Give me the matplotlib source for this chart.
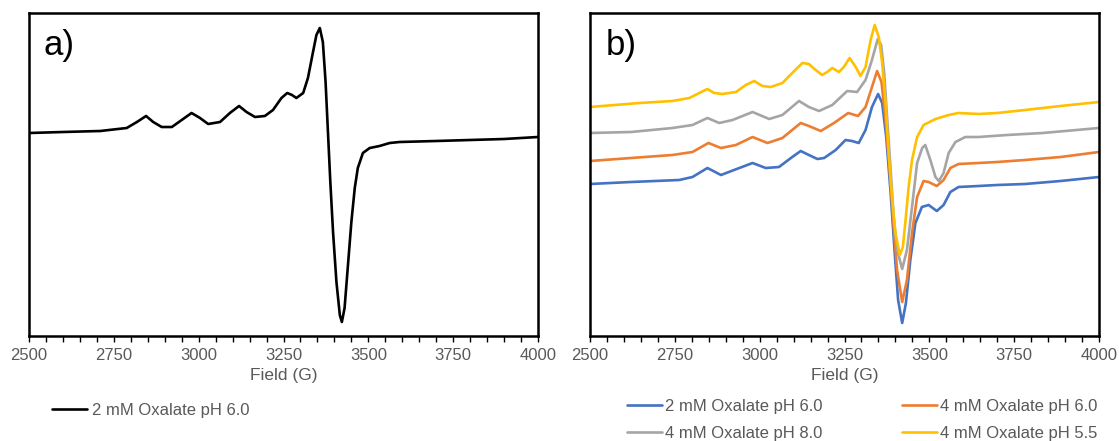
import matplotlib
matplotlib.use("Agg")
import matplotlib.pyplot as plt
from matplotlib.ticker import MultipleLocator

plt.rcParams['font.family'] = ['Liberation Sans', 'DejaVu Sans']

# ---- panel a) : 2 mM oxalate, pH 6.0 (field in G, signal in arbitrary units) ----
field_a = [2500, 2600, 2710, 2788, 2818, 2845, 2866, 2891, 2921, 2950, 2979, 3004,
           3028, 3063, 3092, 3119, 3141, 3166, 3195, 3219, 3244, 3261, 3275, 3288,
           3308, 3322, 3337, 3347, 3357, 3366, 3374, 3381, 3388, 3396, 3406, 3416,
           3422, 3430, 3440, 3450, 3460, 3469, 3484, 3504, 3533, 3563, 3592, 3700,
           3800, 3900, 4000]
signal_a = [203, 204, 205, 208, 214, 220, 214, 209, 209, 216, 223, 218,
            212, 214, 223, 230, 224, 219, 220, 226, 238, 243, 241, 238,
            243, 258, 284, 301, 308, 294, 254, 204, 154, 104, 54, 21,
            14, 28, 71, 114, 148, 168, 183, 188, 190, 193, 194, 195,
            196, 197, 199]

# ---- panel b) : four samples ----
field_blue = [2500, 2621, 2763, 2802, 2846, 2886, 2940, 2979, 3018, 3057, 3096, 3121,
              3145, 3170, 3190, 3224, 3253, 3272, 3292, 3312, 3331, 3349, 3361, 3373,
              3386, 3398, 3408, 3420, 3431, 3444, 3459, 3478, 3498, 3522, 3542, 3562,
              3586, 3645, 3700, 3782, 3887, 4000]
signal_blue = [152, 154, 156, 159, 168, 161, 168, 173, 168, 169, 179, 185,
               181, 177, 178, 186, 196, 195, 193, 206, 229, 242, 233, 199,
               143, 83, 36, 13, 33, 76, 113, 129, 131, 125, 131, 144,
               149, 150, 151, 152, 155, 159]

field_orange = [2500, 2621, 2743, 2802, 2849, 2886, 2930, 2979, 3023, 3067, 3121, 3145,
                3180, 3219, 3261, 3290, 3312, 3331, 3346, 3359, 3371, 3383, 3395, 3405,
                3420, 3434, 3449, 3464, 3483, 3498, 3522, 3542, 3562, 3586, 3645, 3700,
                3782, 3887, 4000]
signal_orange = [175, 178, 181, 184, 193, 188, 191, 199, 193, 198, 213, 210,
                 205, 213, 223, 220, 229, 249, 265, 254, 216, 166, 109, 66,
                 34, 56, 103, 139, 155, 154, 150, 156, 168, 172, 173, 174,
                 176, 179, 184]

field_gray = [2500, 2621, 2743, 2802, 2846, 2881, 2920, 2979, 3028, 3067, 3116, 3145,
              3175, 3214, 3258, 3287, 3312, 3330, 3348, 3358, 3367, 3376, 3386, 3395,
              3405, 3420, 3434, 3449, 3464, 3479, 3488, 3503, 3518, 3528, 3542, 3557,
              3577, 3606, 3645, 3729, 3834, 4000]
signal_gray = [203, 204, 208, 211, 218, 213, 216, 224, 217, 221, 235, 229,
               225, 231, 245, 244, 256, 275, 297, 291, 263, 216, 166, 119,
               86, 67, 86, 129, 173, 188, 191, 176, 159, 155, 163, 183,
               194, 199, 199, 201, 203, 208]

field_yellow = [2500, 2646, 2743, 2793, 2822, 2846, 2866, 2890, 2930, 2959, 2984, 3008,
                3033, 3067, 3096, 3126, 3145, 3165, 3184, 3199, 3214, 3234, 3248, 3265,
                3283, 3297, 3312, 3327, 3339, 3351, 3361, 3371, 3380, 3390, 3400, 3413,
                3422, 3430, 3439, 3449, 3464, 3483, 3518, 3557, 3586, 3645, 3700, 3782,
                3887, 4000]
signal_yellow = [229, 233, 235, 238, 243, 247, 243, 242, 244, 251, 255, 250,
                 249, 253, 263, 273, 272, 266, 261, 264, 268, 264, 269, 278,
                 269, 260, 269, 296, 311, 299, 273, 233, 183, 139, 103, 81,
                 89, 116, 149, 176, 199, 211, 217, 221, 223, 222, 223, 226,
                 230, 234]

labels_b = ["2 mM Oxalate pH 6.0", "4 mM Oxalate pH 6.0",
            "4 mM Oxalate pH 8.0", "4 mM Oxalate pH 5.5"]
colors_b = ["#4472C4", "#ED7D31", "#A5A5A5", "#FFC000"]

xticks = [2500, 2750, 3000, 3250, 3500, 3750, 4000]

fig = plt.figure(figsize=(11.19, 4.41), dpi=100)
ax_a = fig.add_axes([29 / 1119, 1 - 336 / 441, 509 / 1119, 323 / 441])
ax_b = fig.add_axes([590 / 1119, 1 - 336 / 441, 509 / 1119, 323 / 441])

label_gray = "#595959"


def style(ax):
    ax.set_xlim(2500, 4000)
    ax.set_ylim(0, 323)
    ax.set_xticks(xticks)
    ax.xaxis.set_minor_locator(MultipleLocator(50))
    ax.set_yticks([])
    for s in ax.spines.values():
        s.set_linewidth(1.8)
        s.set_color("black")
    ax.tick_params(axis="x", which="both", direction="out", length=4, width=1.0,
                   color="black", labelcolor=label_gray, labelsize=12, pad=5)
    ax.set_xlabel("Field (G)", fontsize=12.5, color=label_gray, labelpad=3)


style(ax_a)
style(ax_b)

ax_a.plot(field_a, signal_a, color="black", lw=1.9, label="2 mM Oxalate pH 6.0",
          solid_joinstyle="round", solid_capstyle="round")
ax_a.text(0.028, 0.87, "a)", transform=ax_a.transAxes, fontsize=25, va="baseline")

series_b = [(field_blue, signal_blue), (field_orange, signal_orange),
            (field_gray, signal_gray), (field_yellow, signal_yellow)]
handles = []
for (fx, sy), c, lab in zip(series_b, colors_b, labels_b):
    h, = ax_b.plot(fx, sy, color=c, lw=1.9, label=lab,
                   solid_joinstyle="round", solid_capstyle="round")
    handles.append(h)
ax_b.text(0.03, 0.87, "b)", transform=ax_b.transAxes, fontsize=25, va="baseline")

leg_a = ax_a.legend(loc="center left", bbox_to_anchor=(52 / 1119, 1 - 410 / 441),
                    bbox_transform=fig.transFigure, frameon=False, fontsize=12,
                    handlelength=2.1, handletextpad=0.3, borderpad=0, borderaxespad=0)
for t in leg_a.get_texts():
    t.set_color(label_gray)

# column-major fill: first column holds entries 1 and 3
order = [0, 2, 1, 3]
leg_b = ax_b.legend([handles[i] for i in order], [labels_b[i] for i in order],
                    ncol=2, loc="upper left", bbox_to_anchor=(627 / 1119, 1 - 399 / 441),
                    bbox_transform=fig.transFigure, frameon=False, fontsize=12,
                    handlelength=2.1, handletextpad=0.2, columnspacing=4.75,
                    labelspacing=0.7, borderpad=0, borderaxespad=0)
for t in leg_b.get_texts():
    t.set_color(label_gray)

fig.savefig("out.png", dpi=100)
